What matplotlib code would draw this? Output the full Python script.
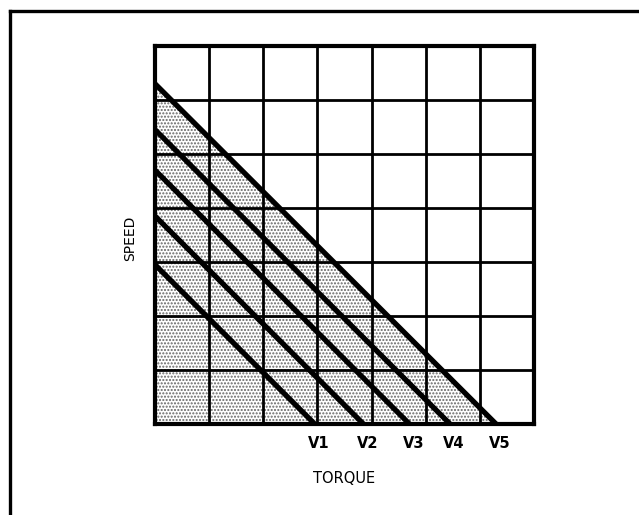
import numpy as np
import matplotlib.pyplot as plt
import matplotlib.transforms as mtransforms
from matplotlib.lines import Line2D

# Constant-voltage lines on the speed/torque plane (grid units, slope -1)
VOLTAGES = ["V1", "V2", "V3", "V4", "V5"]
INTERCEPTS = [2.95, 3.85, 4.7, 5.45, 6.3]
GRID_CELLS = 7

fig = plt.figure(figsize=(6.39, 5.15), dpi=100)
ax = fig.add_axes([0.2426, 0.1767, 0.593, 0.734])

# outer frame (only top and left edges show)
fig.add_artist(Line2D([0.0149, 0.0149], [0.0, 0.9777], color="black", lw=2.4,
                      transform=fig.transFigure))
fig.add_artist(Line2D([0.0149, 1.0], [0.9777, 0.9777], color="black", lw=2.4,
                      transform=fig.transFigure))

# stippled region under the highest voltage line
top = INTERCEPTS[-1]
xs = np.array([0, top])
ax.fill_between(xs, top - xs, 0, facecolor="white", hatch=".....",
                edgecolor="#666666", linewidth=0, zorder=1)

# grid
for k in range(1, GRID_CELLS):
    ax.axvline(k, color="black", lw=2.0, zorder=2)
    ax.axhline(k, color="black", lw=2.0, zorder=2)

for c in INTERCEPTS:
    ax.plot([0, c], [c, 0], color="black", lw=3.8, solid_capstyle="butt", zorder=3)

ax.set_xlim(0, GRID_CELLS)
ax.set_ylim(0, GRID_CELLS)
for s in ax.spines.values():
    s.set_linewidth(3)
    s.set_zorder(4)

ax.set_xticks(INTERCEPTS)
ax.set_xticklabels(VOLTAGES, fontsize=10.5, fontweight="bold")
ax.set_yticks([])
ax.tick_params(axis="x", length=0, pad=9)
shift = mtransforms.ScaledTranslation(4 / 100, 0, fig.dpi_scale_trans)
for lbl in ax.get_xticklabels():
    lbl.set_transform(lbl.get_transform() + shift)

ax.set_xlabel("TORQUE", fontsize=10.5, labelpad=14)
ax.set_ylabel("SPEED", fontsize=10)
ax.yaxis.set_label_coords(-0.048, 0.49)

plt.savefig("out.png", dpi=100)
